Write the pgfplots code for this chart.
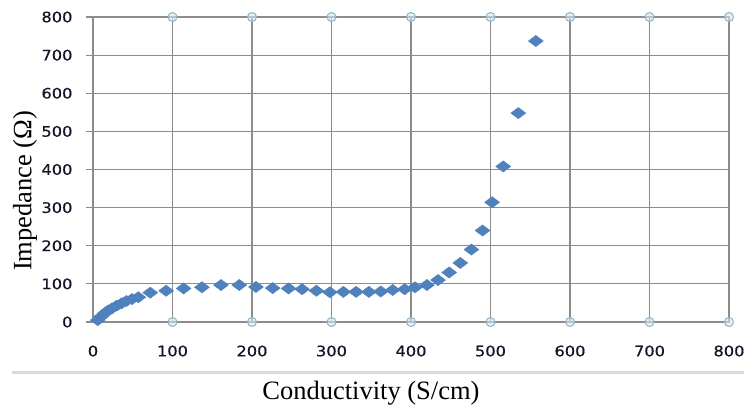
\documentclass[border=0pt]{standalone}
\usepackage{pgfplots}
\pgfplotsset{compat=1.18}
\usepackage{fontspec}
\setmainfont{Liberation Serif}
\newfontfamily\tickfont[FakeStretch=1.12, FakeBold=0.6]{DejaVu Sans}
\definecolor{ptblue}{HTML}{4F81BD}
\definecolor{gridgray}{HTML}{8C8C8C}
\definecolor{circfill}{HTML}{D5E8F0}
\definecolor{circdraw}{HTML}{8DB4C8}
\definecolor{ticktext}{HTML}{15152A}
\definecolor{bandgray}{HTML}{D4DADF}
\begin{document}
\begin{tikzpicture}
\begin{axis}[
  scale only axis, width=636pt, height=305pt,
  xmin=0, xmax=800, ymin=0, ymax=800,
  xtick={0,100,...,800}, ytick={0,100,...,800},
  axis line style={draw=gridgray, line width=1.2pt},
  ymajorgrids, grid style={draw=gridgray, line width=1.2pt},
  xtick style={draw=none},
  ytick pos=left, tick align=outside, major tick length=7pt,
  ytick style={draw=gridgray, line width=1.2pt},
  /pgf/number format/assume math mode=true,
  ticklabel style={font=\tickfont\fontsize{14.5}{14.5}\selectfont, text=ticktext},
  xticklabel style={yshift=-13pt},
  yticklabel style={xshift=-10pt},
  xlabel={Conductivity (S/cm)},
  ylabel={Impedance (Ω)},
  label style={font=\fontsize{26.5}{26.5}\selectfont},
  xlabel style={at={(axis description cs:0.437,-0.233)}, anchor=center},
  ylabel style={at={(axis description cs:-0.107,0.43)}, anchor=center},
  clip=false,
]
\pgfplotsinvokeforeach{100,200,300,400,500,600,700,800}{
  \addplot[draw=gridgray, line width=1.2pt, mark=*, mark size=4.5pt,
    mark options={fill=circfill, fill opacity=0.6, draw=circdraw, line width=1pt}]
    coordinates {(#1,0) (#1,800)};
}
\addplot[only marks, mark=diamond*, mark size=7.5pt, mark options={rotate=90, fill=ptblue, draw=ptblue}] coordinates {
(6,5) (10,14) (15,23) (19,30) (24,36) (30,43) (36,49) (42,55) (49,60) (57,65)
(72,77) (92,82) (114,88) (137,91) (161,97) (184,97) (205,92) (226,89) (246,88)
(263,86) (281,82) (298,78) (315,79) (331,79) (347,79) (362,80) (377,84) (392,86)
(405,91) (420,97) (434,110) (448,130) (462,155) (476,190) (490,240) (502,314)
(516,408) (535,548) (557,737)
};
\coordinate (bl) at (rel axis cs:0,0);
\end{axis}
\draw[line width=3pt, color=bandgray] ([shift={(-81pt,-50pt)}]bl) -- ([shift={(651pt,-50pt)}]bl);
\pgfresetboundingbox
\path ([shift={(-93pt,-83pt)}]bl) rectangle ([shift={(651pt,322pt)}]bl);
\end{tikzpicture}
\end{document}
